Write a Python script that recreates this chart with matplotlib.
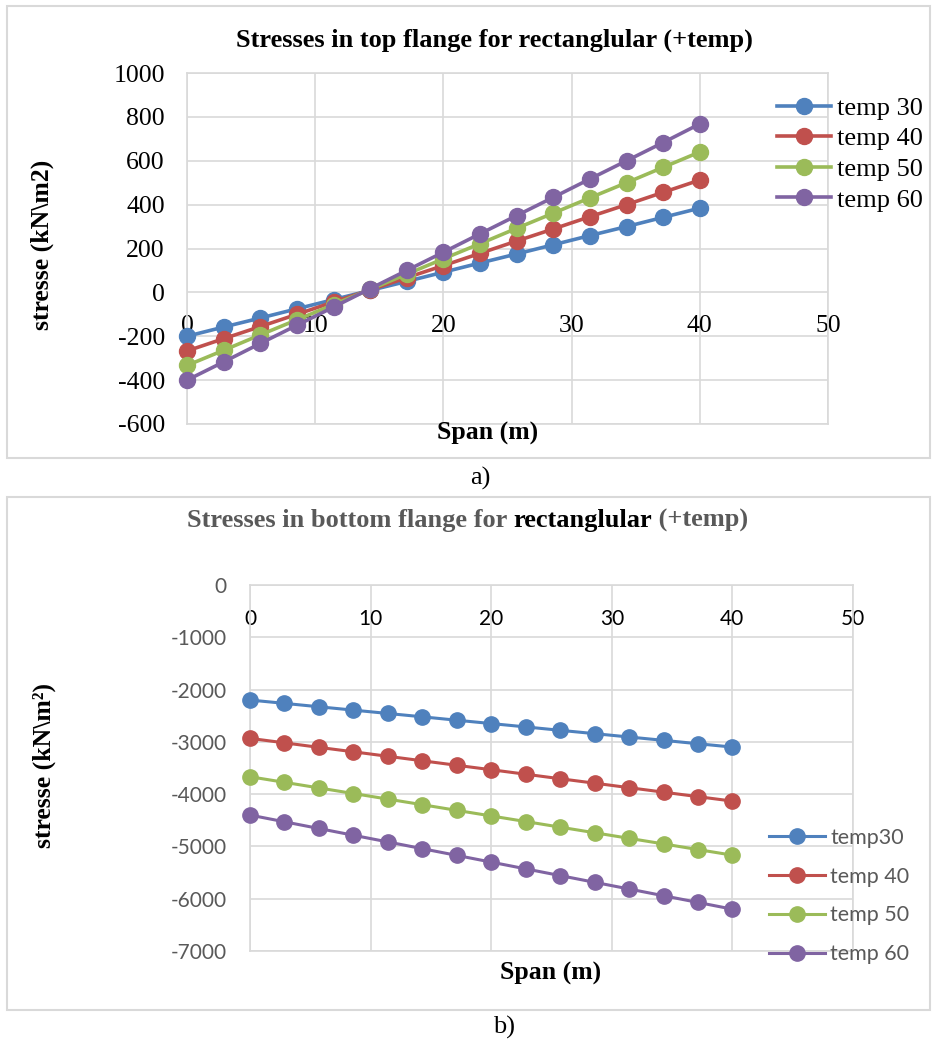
import matplotlib
matplotlib.use("Agg")
import matplotlib.pyplot as plt
from matplotlib.patches import Rectangle

plt.rcParams["axes.unicode_minus"] = False

W, H = 932, 1042

span = [0, 2.86, 5.71, 8.57, 11.43, 14.29, 17.14, 20, 22.86, 25.71, 28.57, 31.43, 34.29, 37.14, 40]

# stresses in top flange (kN/m2)
top_30 = [-200, -158, -117, -75, -33, 9, 50, 92, 134, 175, 217, 259, 300, 342, 384]
top_40 = [-267, -211, -156, -100, -44, 11, 67, 122, 178, 234, 289, 345, 400, 456, 512]
top_50 = [-333, -264, -194, -125, -56, 14, 83, 153, 222, 292, 361, 431, 500, 570, 640]
top_60 = [-400, -317, -233, -150, -67, 17, 100, 183, 267, 350, 433, 517, 600, 683, 768]
top_labels = ["temp 30", "temp 40", "temp 50", "temp 60"]

# stresses in bottom flange (kN/m2)
bot_30 = [-2200, -2264, -2329, -2393, -2457, -2521, -2586, -2650, -2714, -2779, -2843, -2907, -2971, -3036, -3100]
bot_40 = [-2933, -3019, -3105, -3190, -3276, -3362, -3448, -3533, -3619, -3705, -3790, -3876, -3962, -4048, -4133]
bot_50 = [-3667, -3774, -3881, -3988, -4095, -4202, -4310, -4417, -4524, -4631, -4738, -4845, -4952, -5060, -5167]
bot_60 = [-4400, -4529, -4657, -4786, -4914, -5043, -5171, -5300, -5429, -5557, -5686, -5814, -5943, -6071, -6200]
bot_labels = ["temp30", "temp 40", "temp 50", "temp 60"]

colors = ["#4F81BD", "#C0504D", "#9BBB59", "#8064A2"]
grid_c = "#d9d9d9"
gray_txt = "#595959"
serif = "Liberation Serif"
sans = "Lato"


def fx(px):
    return px / W


def fy(py):
    return 1 - py / H


def axes_px(left, top, right, bottom):
    return fig.add_axes([fx(left), fy(bottom), (right - left) / W, (bottom - top) / H])


fig = plt.figure(figsize=(W / 100, H / 100), dpi=100)

# panel borders
for top, bottom in [(6, 458), (497, 1010)]:
    fig.add_artist(Rectangle((fx(7), fy(bottom)), (930 - 7) / W, (bottom - top) / H,
                             transform=fig.transFigure, fill=False, ec=grid_c, lw=1.5))

# ---- a) top flange ----
ax = axes_px(187, 73, 828, 424)
for ys, c, lab in zip([top_30, top_40, top_50, top_60], colors, top_labels):
    ax.plot(span, ys, color=c, lw=2.6, marker="o", ms=11.5, label=lab, clip_on=False, zorder=3)
ax.set_xlim(0, 50)
ax.set_ylim(-600, 1000)
ax.set_xticks(range(0, 51, 10))
ax.set_yticks(range(-600, 1001, 200))
ax.grid(True, color=grid_c, lw=1.2)
ax.set_axisbelow(True)
for s in ["left", "right", "top"]:
    ax.spines[s].set_color(grid_c)
    ax.spines[s].set_linewidth(1.2)
ax.spines["bottom"].set_position(("data", 0))
ax.spines["bottom"].set_visible(False)
ax.axhline(-600, color=grid_c, lw=1.2, clip_on=False, zorder=0)
ax.tick_params(axis="x", length=0, pad=16.5, labelsize=18.5)
ax.tick_params(axis="y", length=0, pad=16, labelsize=18.5)
for t in ax.get_xticklabels() + ax.get_yticklabels():
    t.set_fontfamily(serif)
ax.legend(loc="center left", bbox_to_anchor=(fx(777), fy(154)), bbox_transform=fig.transFigure,
          frameon=False, prop={"family": serif, "size": 19}, borderpad=0, borderaxespad=0,
          handlelength=2.05, handletextpad=0.23, labelspacing=0.27)

fig.text(fx(494), fy(40), "Stresses in top flange for rectanglular (+temp)",
         ha="center", va="center", fontsize=19, fontweight="bold", family=serif)
fig.text(fx(488), fy(433), "Span (m)", ha="center", va="center",
         fontsize=18.5, fontweight="bold", family=serif)
fig.text(fx(42), fy(245), "stresse (kN\\m2)", ha="center", va="center", rotation=90,
         fontsize=18.5, fontweight="bold", family=serif)
fig.text(fx(480), fy(478), "a)", ha="center", va="center", fontsize=19, family=serif)

# ---- b) bottom flange ----
bx = axes_px(250, 585, 853, 951)
for ys, c, lab in zip([bot_30, bot_40, bot_50, bot_60], colors, bot_labels):
    bx.plot(span, ys, color=c, lw=2.2, marker="o", ms=11, label=lab, clip_on=False, zorder=3)
bx.set_xlim(0, 50)
bx.set_ylim(-7000, 0)
bx.set_xticks(range(0, 51, 10))
bx.set_yticks(range(-7000, 1, 1000))
bx.grid(True, color=grid_c, lw=1.2)
bx.set_axisbelow(True)
for s in ["left", "right", "top"]:
    bx.spines[s].set_color(grid_c)
    bx.spines[s].set_linewidth(1.2)
bx.spines["bottom"].set_position(("data", 0))
bx.spines["bottom"].set_visible(False)
bx.axhline(-7000, color=grid_c, lw=1.2, clip_on=False, zorder=0)
bx.tick_params(axis="x", length=0, pad=17, labelsize=15, labelcolor="black")
bx.tick_params(axis="y", length=0, pad=17, labelsize=15, labelcolor=gray_txt)
for t in bx.get_xticklabels() + bx.get_yticklabels():
    t.set_fontfamily(sans)
leg = bx.legend(loc="center left", bbox_to_anchor=(fx(769), fy(896)), bbox_transform=fig.transFigure,
                frameon=False, prop={"family": sans, "size": 15.5}, borderpad=0, borderaxespad=0,
                handlelength=2.6, handletextpad=0.25, labelspacing=0.88)
for t in leg.get_texts():
    t.set_color(gray_txt)

t1 = fig.text(fx(187), fy(520), "Stresses in bottom flange for ", ha="left", va="center",
              fontsize=19, fontweight="bold", family=serif, color=gray_txt)
t2 = bx.annotate("rectanglular", xy=(1, 0), xycoords=t1, ha="left", va="bottom",
                 fontsize=19, fontweight="bold", family=serif, color="black")
bx.annotate(" (+temp)", xy=(1, 0), xycoords=t2, ha="left", va="bottom",
            fontsize=19, fontweight="bold", family=serif, color=gray_txt)
fig.text(fx(551), fy(973), "Span (m)", ha="center", va="center",
         fontsize=18.5, fontweight="bold", family=serif)
fig.text(fx(44), fy(765), "stresse (kN\\m\u00b2)", ha="center", va="center", rotation=90,
         fontsize=18.5, fontweight="bold", family=serif)
fig.text(fx(504), fy(1027), "b)", ha="center", va="center", fontsize=19, family=serif)

fig.savefig("out.png", dpi=100)
